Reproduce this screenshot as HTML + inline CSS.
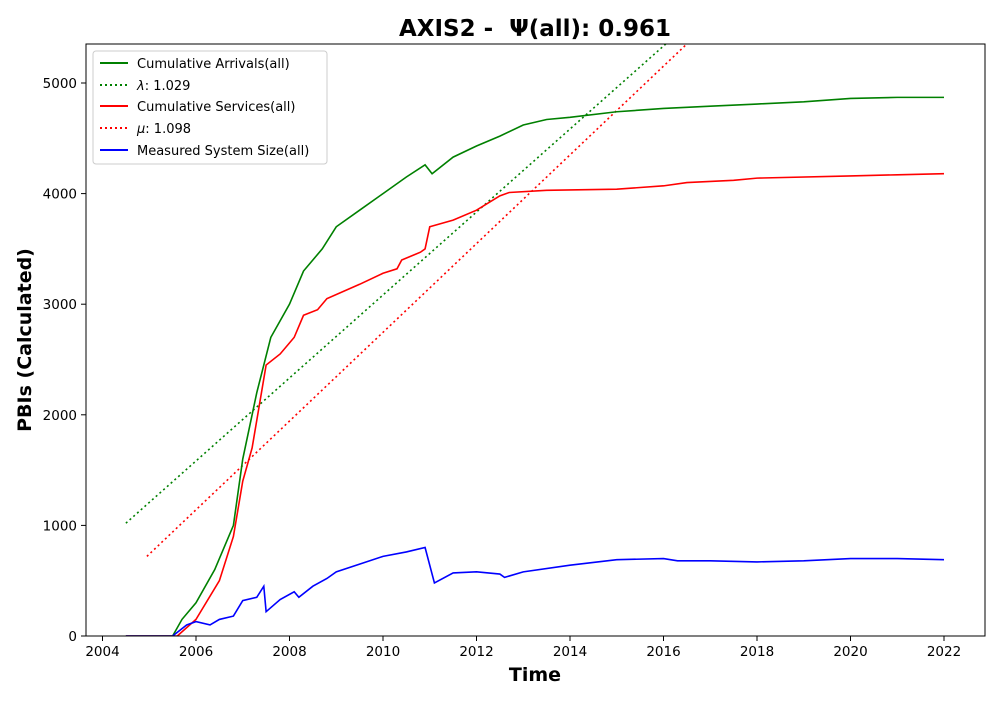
<!DOCTYPE html>
<html><head><meta charset="utf-8"><style>
body{margin:0;background:#fff;font-family:"Liberation Sans","DejaVu Sans",sans-serif}
svg text{font-family:"DejaVu Sans","Liberation Sans",sans-serif}
</style></head><body>
<svg id="chart" width="1000" height="700" xmlns="http://www.w3.org/2000/svg">
<text x="535" y="36" text-anchor="middle" font-size="23" font-weight="bold">AXIS2 - &#160;Ψ(all): 0.961</text>
<g id="plot"></g>
<rect x="86" y="44" width="899" height="592" fill="none" stroke="#000" stroke-width="1"/>
<text x="535" y="681" text-anchor="middle" font-size="19" font-weight="bold">Time</text>
<text transform="translate(31,340) rotate(-90)" text-anchor="middle" font-size="19" font-weight="bold">PBIs (Calculated)</text>
<g>
<rect x="93" y="51" width="234" height="113" fill="#fff" stroke="#ccc" rx="3"/>
<line x1="100" y1="63" x2="128" y2="63" stroke="green" stroke-width="2"/>
<text x="137" y="68" font-size="13">Cumulative Arrivals(all)</text>
<line x1="100" y1="85" x2="128" y2="85" stroke="green" stroke-width="2" stroke-dasharray="2,3"/>
<text x="137" y="90" font-size="13"><tspan font-style="italic">λ</tspan>: 1.029</text>
<line x1="100" y1="106" x2="128" y2="106" stroke="red" stroke-width="2"/>
<text x="137" y="111" font-size="13">Cumulative Services(all)</text>
<line x1="100" y1="128" x2="128" y2="128" stroke="red" stroke-width="2" stroke-dasharray="2,3"/>
<text x="137" y="133" font-size="13"><tspan font-style="italic">μ</tspan>: 1.098</text>
<line x1="100" y1="150" x2="128" y2="150" stroke="blue" stroke-width="2"/>
<text x="137" y="155" font-size="13">Measured System Size(all)</text>
</g>
</svg>
<script>
const xTicks=[2004,2006,2008,2010,2012,2014,2016,2018,2020,2022];
const yTicks=[0,1000,2000,3000,4000,5000];
const arrT=[2004.5,2005.5,2005.7,2006,2006.4,2006.8,2007,2007.3,2007.6,2008,2008.3,2008.7,2009,2009.5,2010,2010.5,2010.9,2011.05,2011.5,2012,2012.5,2013,2013.5,2014,2015,2016,2017,2018,2019,2020,2021,2022];
const arrV=[0,0,150,300,600,1000,1600,2200,2700,3000,3300,3500,3700,3850,4000,4150,4260,4180,4330,4430,4520,4620,4670,4690,4740,4770,4790,4810,4830,4860,4870,4870];
const svcT=[2004.5,2005.6,2006,2006.5,2006.8,2007,2007.2,2007.5,2007.8,2008.1,2008.3,2008.6,2008.8,2009.5,2010,2010.3,2010.4,2010.8,2010.9,2011,2011.5,2012,2012.5,2012.7,2013.5,2015,2016,2016.5,2017.5,2018,2020,2021,2022];
const svcV=[0,0,150,500,900,1400,1700,2450,2550,2700,2900,2950,3050,3180,3280,3320,3400,3470,3500,3700,3760,3850,3980,4010,4030,4040,4070,4100,4120,4140,4160,4170,4180];
const sizT=[2004.5,2005.5,2005.8,2006,2006.3,2006.5,2006.8,2007,2007.3,2007.45,2007.5,2007.8,2008.1,2008.2,2008.5,2008.8,2009,2009.5,2010,2010.5,2010.9,2011.1,2011.5,2012,2012.5,2012.6,2013,2014,2015,2016,2016.3,2017,2018,2019,2020,2021,2022];
const sizV=[0,0,100,130,100,150,180,320,350,450,220,330,400,350,450,520,580,650,720,760,800,480,570,580,560,530,580,640,690,700,680,680,670,680,700,700,690];
const lamT=[2004.5,2016.05];
const lamV=[1020,5353];
const muT=[2004.95,2016.5];
const muV=[720,5353];
const X=t=>196+(t-2006)*46.75;
const Y=v=>636-v*0.1106;
const NS='http://www.w3.org/2000/svg';
const g=document.getElementById('plot');
function mk(tag,attrs){const e=document.createElementNS(NS,tag);for(const k in attrs)e.setAttribute(k,attrs[k]);g.appendChild(e);return e;}
xTicks.forEach(t=>{
 const l=mk('line',{x1:X(t),x2:X(t),y1:636,y2:641,stroke:'#000'});
 
 
 const tx=mk('text',{x:X(t),y:656,'text-anchor':'middle','font-size':13.5});tx.textContent=t;
 
 
});
yTicks.forEach(v=>{
 const l=mk('line',{x1:81,x2:86,y1:Y(v),y2:Y(v),stroke:'#000'});
 
 
 const tx=mk('text',{x:77,y:Y(v)+5,'text-anchor':'end','font-size':13.5});tx.textContent=v;
 
 
});
const defs=mk('clipPath',{id:'clip'});
const cr=document.createElementNS(NS,'rect');cr.setAttribute('x',86);cr.setAttribute('y',44);cr.setAttribute('width',899);cr.setAttribute('height',592);defs.appendChild(cr);
function line(T,V,color,dash,name){
 const p=mk('polyline',{points:T.map((t,i)=>X(t)+','+Y(V[i])).join(' '),fill:'none',stroke:color,'stroke-width':1.6,'clip-path':'url(#clip)'});
 if(dash)p.setAttribute('stroke-dasharray',dash);
 
 
}
line(lamT,lamV,'green','2,3','lambda-line');
line(muT,muV,'red','2,3','mu-line');
line(arrT,arrV,'green',null,'cumulative-arrivals-line');
line(svcT,svcV,'red',null,'cumulative-services-line');
line(sizT,sizV,'blue',null,'system-size-line');
</script>
</body></html>
